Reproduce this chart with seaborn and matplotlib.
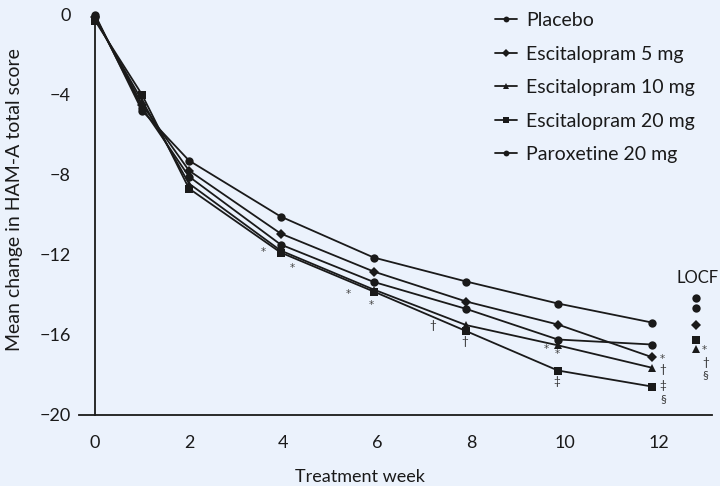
import matplotlib
matplotlib.use("Agg")
import matplotlib.pyplot as plt
from matplotlib.lines import Line2D
import seaborn as sns
import pandas as pd

# Mean change from baseline in HAM-A total score by treatment week (observed cases)
weeks = [0, 1, 2, 3.95, 5.93, 7.9, 9.85, 11.85]
placebo = [0.0, -4.8, -7.3, -10.1, -12.15, -13.35, -14.45, -15.4]
escit_5 = [-0.1, -4.5, -7.8, -10.95, -12.85, -14.35, -15.5, -17.13]
escit_10 = [-0.2, -4.3, -8.45, -11.8, -13.75, -15.53, -16.54, -17.66]
escit_20 = [-0.3, -4.0, -8.7, -11.9, -13.85, -15.83, -17.8, -18.6]
paroxetine = [-0.1, -4.65, -8.1, -11.5, -13.37, -14.72, -16.25, -16.5]

# Last observation carried forward endpoint
locf_week = 12.8
locf_values = {"Placebo": -14.18, "Paroxetine 20 mg": -14.66,
               "Escitalopram 5 mg": -15.54, "Escitalopram 20 mg": -16.29,
               "Escitalopram 10 mg": -16.74}

groups = ["Placebo", "Escitalopram 5 mg", "Escitalopram 10 mg",
          "Escitalopram 20 mg", "Paroxetine 20 mg"]
series = dict(zip(groups, [placebo, escit_5, escit_10, escit_20, paroxetine]))
markers = {"Placebo": "o", "Escitalopram 5 mg": "D", "Escitalopram 10 mg": "^",
           "Escitalopram 20 mg": "s", "Paroxetine 20 mg": "o"}
msizes = {"o": 6.0, "D": 5.6, "^": 6.0, "s": 5.2}

x_ticks = [0, 2, 4, 6, 8, 10, 12]
y_ticks = [0, -4, -8, -12, -16, -20]

# significance marks: (symbol, group, point index, offset in pixels)
sig_marks = [
    ("*", "Escitalopram 20 mg", 3, (-17, 3)),
    ("*", "Escitalopram 20 mg", 3, (12, -13)),
    ("*", "Escitalopram 20 mg", 4, (-25, 0)),
    ("*", "Escitalopram 20 mg", 4, (-2, -11)),
    ("†", "Escitalopram 10 mg", 5, (-33, 0)),
    ("†", "Escitalopram 20 mg", 5, (-1, -10)),
    ("*", "Escitalopram 10 mg", 6, (-12, -2)),
    ("*", "Escitalopram 10 mg", 6, (-1, -7)),
    ("‡", "Escitalopram 20 mg", 6, (-1, -11)),
    ("*", "Escitalopram 5 mg", 7, (10, 0)),
    ("†", "Escitalopram 10 mg", 7, (11, -2)),
    ("‡", "Escitalopram 20 mg", 7, (11, 1)),
    ("§", "Escitalopram 20 mg", 7, (11, -12)),
]
locf_marks = [("*", (8, 1)), ("†", (9, -13)), ("§", (9, -25))]

bg = "#EBF2FC"
ink = "#1a1a1a"
fam = ["Lato", "DejaVu Sans"]

sns.set_theme(style="white")
plt.rcParams["font.family"] = fam
plt.rcParams["axes.facecolor"] = bg
plt.rcParams["figure.facecolor"] = bg

fig = plt.figure(figsize=(7.2, 4.86), dpi=100)
ax = fig.add_axes([0.1097, 0.1471, 0.8792, 0.8395])
ax.set_facecolor(bg)

rows = []
for g in groups:
    for w, v in zip(weeks, series[g]):
        rows.append({"group": g, "week": w, "change": v})
df = pd.DataFrame(rows)

for g in groups:
    m = markers[g]
    sns.lineplot(data=df[df["group"] == g], x="week", y="change", ax=ax,
                 color=ink, lw=1.3, marker=m, markersize=msizes[m],
                 markeredgewidth=0, legend=False, zorder=3)

for g, v in locf_values.items():
    m = markers[g]
    ax.plot([locf_week], [v], marker=m, ms=msizes[m], mew=0, color=ink,
            ls="none", zorder=3)


def put_mark(sym, xy, dx, dy):
    # the asterisk glyph sits high in its box, so nudge it down a little
    if sym == "*":
        ax.annotate(sym, xy=xy, xytext=(dx, dy - 2), textcoords="offset pixels",
                    ha="center", va="center", fontsize=7.5, color="#444444",
                    family=["DejaVu Sans"])
    else:
        ax.annotate(sym, xy=xy, xytext=(dx, dy), textcoords="offset pixels",
                    ha="center", va="center", fontsize=8.5, color="#333333")


for sym, g, i, (dx, dy) in sig_marks:
    put_mark(sym, (weeks[i], series[g][i]), dx, dy)
for sym, (dx, dy) in locf_marks:
    put_mark(sym, (locf_week, locf_values["Escitalopram 10 mg"]), dx, dy)
ax.annotate("LOCF", xy=(locf_week, locf_values["Placebo"]), xytext=(1, 20),
            textcoords="offset pixels", ha="center", va="center",
            fontsize=12, color=ink)

ax.set_xlim(-0.34, 13.13)
ax.set_ylim(-20, 0.4)
ax.spines["left"].set_position(("data", 0))
ax.spines["left"].set_bounds(-20, 0)
for s in ["top", "right"]:
    ax.spines[s].set_visible(False)
for s in ["left", "bottom"]:
    ax.spines[s].set_color(ink)
    ax.spines[s].set_linewidth(1.3)

ax.set_xticks(x_ticks)
ax.set_yticks(y_ticks)
ax.set_xticklabels([str(t) for t in x_ticks])
ax.set_yticklabels([str(t).replace("-", "\u2212") for t in y_ticks])
ax.tick_params(axis="x", direction="out", length=10, width=1.3, color=ink,
               labelsize=13, labelcolor=ink, pad=5)
ax.tick_params(axis="y", direction="out", length=11.5, width=1.3, color=ink,
               labelsize=13, labelcolor=ink, pad=6)
ax.set_xlabel("")
ax.set_ylabel("")
fig.text(360 / 720, 1 - 477 / 486, "Treatment week", ha="center",
         va="center", fontsize=13, color=ink)
fig.text(15 / 720, 1 - 200 / 486, "Mean change in HAM-A total score",
         rotation=90, ha="center", va="center", fontsize=14, color=ink)

handles = [Line2D([0], [0], color=ink, lw=1.3, marker=markers[g],
                  ms=msizes[markers[g]] * 0.7, mew=0) for g in groups]
leg = ax.legend(handles, groups, loc="upper left",
                bbox_to_anchor=(495 / 720, 1 - 12 / 486),
                bbox_transform=fig.transFigure, frameon=False,
                fontsize=14, handlelength=1.15, handletextpad=0.45,
                labelspacing=0.85, borderpad=0, borderaxespad=0)
for t in leg.get_texts():
    t.set_color(ink)

fig.savefig("out.png", dpi=100, facecolor=bg)
